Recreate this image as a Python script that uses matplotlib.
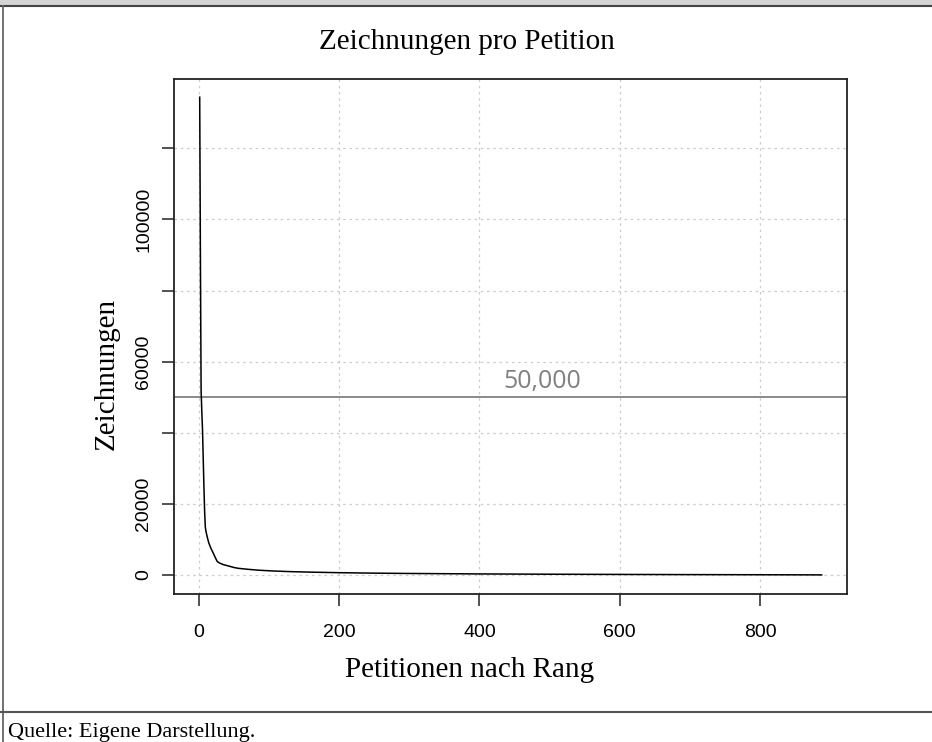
import matplotlib
matplotlib.use("Agg")
import matplotlib.pyplot as plt
from matplotlib.patches import Rectangle
from matplotlib.lines import Line2D

# ---- data ----
rank = [1, 2, 3, 4, 5, 6, 7, 8, 9, 10, 12, 14, 17, 20, 23, 26, 30, 35, 42, 50,
        56, 70, 85, 106, 130, 160, 200, 250, 300, 400, 500, 600, 700, 800, 888]
signatures = [134400, 90000, 52000, 46000, 41000, 33000, 25000, 18000, 13500, 12200,
              10500, 9000, 7500, 6300, 5000, 3800, 3300, 2900, 2540, 2100,
              1880, 1600, 1350, 1130, 950, 800, 650, 520, 430, 300, 220, 160, 110, 70, 30]
threshold = 50000
threshold_label = "50,000"
xticks = [0, 200, 400, 600, 800]
yticks = [0, 20000, 40000, 60000, 80000, 100000, 120000]
ytick_labels = ["0", "20000", "", "60000", "", "100000", ""]
title = "Zeichnungen pro Petition"
xlabel = "Petitionen nach Rang"
ylabel = "Zeichnungen"
source = "Quelle: Eigene Darstellung."

W, H = 932, 742
fig = plt.figure(figsize=(W / 100, H / 100), dpi=100)

def fx(px):
    return px / W

def fy(py):
    return 1 - py / H

ax = fig.add_axes([fx(174), fy(594), fx(847) - fx(174), fy(79) - fy(594)])
ax.set_xlim(-35.65, 924.1)
ax.set_ylim(-5345, 139520)

ax.set_xticks(xticks)
ax.set_xticklabels([str(t) for t in xticks], fontfamily="Liberation Sans", fontsize=14)
ax.set_yticks(yticks)
ax.set_yticklabels(ytick_labels, fontfamily="Liberation Sans", fontsize=14,
                   rotation=90, va="center")
ax.tick_params(axis="x", length=8.6, width=1.2, pad=13, color="#333333")
ax.tick_params(axis="y", length=8.6, width=1.2, pad=7, color="#333333")
for s in ax.spines.values():
    s.set_linewidth(1.3)
    s.set_color("#222222")

ax.grid(True, color="#cccccc", linestyle=(0, (2, 3)), linewidth=0.9)
ax.set_axisbelow(True)

ax.axhline(threshold, color="#777777", linewidth=1.2, zorder=2)
ax.text(489, 52600, threshold_label, fontfamily="Open Sans", fontsize=18,
        color="#808080", ha="center", va="baseline")

ax.plot(rank, signatures, color="black", linewidth=1.1, zorder=3)

fig.text(fx(467), fy(42), title, fontfamily="Liberation Serif", fontsize=21,
         ha="center", va="center")
fig.text(fx(470), fy(670), xlabel, fontfamily="Liberation Serif", fontsize=21,
         ha="center", va="center")
fig.text(fx(107), fy(374), ylabel, fontfamily="Liberation Serif", fontsize=21,
         ha="center", va="center", rotation=90)

# frame decorations
fig.add_artist(Rectangle((0, fy(5.5)), 1, 1 - fy(5.5), transform=fig.transFigure,
                         facecolor="#d4d4d4", edgecolor="none"))
fig.add_artist(Line2D([0, 1], [fy(6), fy(6)], transform=fig.transFigure,
                      color="#444444", linewidth=1.5))
fig.add_artist(Line2D([fx(3.3), fx(3.3)], [0, fy(6)], transform=fig.transFigure,
                      color="#666666", linewidth=1.3))
fig.add_artist(Line2D([0, 1], [fy(712), fy(712)], transform=fig.transFigure,
                      color="#555555", linewidth=1.5))
fig.text(fx(8), fy(737), source, fontfamily="Liberation Serif", fontsize=16,
         ha="left", va="baseline")

fig.savefig("out.png", dpi=100)
